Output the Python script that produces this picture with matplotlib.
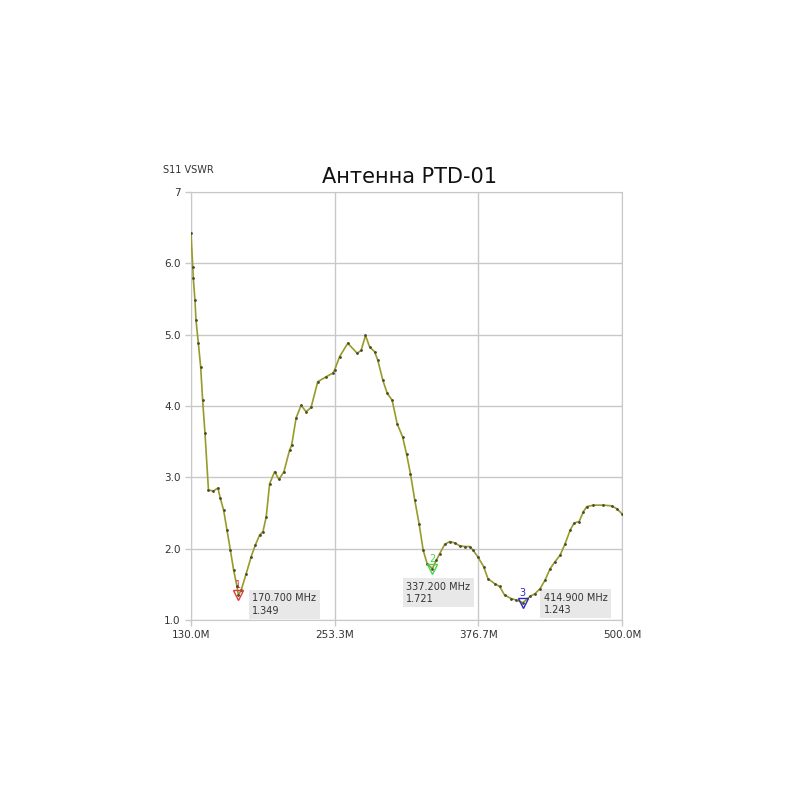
import numpy as np
import matplotlib
matplotlib.use('Agg')
import matplotlib.pyplot as plt

# S11 VSWR sweep
freq = [130.0, 131.5, 132.0, 133.4, 134.3, 136.3, 138.3, 140.0, 142.0, 145.0,
        149.3, 153.1, 155.1, 158.0, 160.9, 163.8, 166.6, 169.5, 170.7, 173.1,
        177.4, 181.7, 185.2, 188.9, 191.8, 194.6, 197.5, 201.8, 205.5, 209.8,
        214.6, 216.4, 220.2, 224.5, 228.8, 233.1, 238.8, 246.0, 251.7, 253.2,
        257.5, 264.6, 272.6, 276.1, 279.8, 283.3, 287.6, 290.4, 294.7, 298.4,
        302.7, 307.0, 311.6, 315.0, 318.4, 322.1, 325.8, 329.3, 332.7, 337.2,
        340.7, 343.5, 347.8, 352.1, 356.4, 360.7, 365.0, 369.3, 372.1, 376.4,
        381.2, 384.9, 390.6, 394.9, 399.2, 404.9, 409.2, 414.9, 421.1, 425.4,
        429.7, 434.0, 438.3, 442.6, 446.9, 451.2, 455.5, 458.9, 463.2, 466.9,
        469.8, 475.5, 484.1, 491.2, 495.5, 500.0]
vswr = [6.42, 5.95, 5.79, 5.48, 5.20, 4.88, 4.55, 4.08, 3.62, 2.82,
        2.81, 2.85, 2.71, 2.54, 2.26, 1.98, 1.70, 1.47, 1.349, 1.42,
        1.65, 1.89, 2.05, 2.19, 2.24, 2.45, 2.91, 3.08, 2.97, 3.08,
        3.38, 3.45, 3.83, 4.01, 3.92, 3.98, 4.34, 4.41, 4.46, 4.50,
        4.69, 4.88, 4.74, 4.78, 4.99, 4.83, 4.76, 4.64, 4.36, 4.18,
        4.08, 3.75, 3.57, 3.33, 3.05, 2.68, 2.35, 1.98, 1.79, 1.721,
        1.84, 1.93, 2.06, 2.10, 2.08, 2.04, 2.03, 2.03, 1.98, 1.88,
        1.75, 1.58, 1.51, 1.47, 1.35, 1.30, 1.28, 1.243, 1.33, 1.37,
        1.44, 1.56, 1.72, 1.82, 1.91, 2.07, 2.26, 2.36, 2.38, 2.52,
        2.59, 2.61, 2.61, 2.60, 2.56, 2.49]

# markers
mk_freq = [170.7, 337.2, 414.9]
mk_val = [1.349, 1.721, 1.243]
mk_num = ['1', '2', '3']
mk_col = ['#e0393e', '#3fd94a', '#2a2ab8']
mk_off = [(14, 2), (-26, -13), (21, 10)]  # readout text offset from marker, pixels

xticks = [130.0, 253.3, 376.7, 500.0]
xticklabels = ['130.0M', '253.3M', '376.7M', '500.0M']
yticks = [1, 2, 3, 4, 5, 6, 7]
yticklabels = ['1.0', '2.0', '3.0', '4.0', '5.0', '6.0', '7']

fig = plt.figure(figsize=(8, 8), dpi=100)
ax = fig.add_axes([191/800, 1-620/800, 431/800, 428/800])

ax.plot(freq, vswr, color='#9a9a28', lw=1.2, zorder=3)
ax.plot(freq, vswr, ls='none', marker='o', ms=1.0, color='#4a4a30', zorder=4)

for f, v, n, c, off in zip(mk_freq, mk_val, mk_num, mk_col, mk_off):
    ax.plot(f, v, marker='v', ms=7, mfc='none', mec=c, mew=1.0, zorder=5)
    ax.annotate(n, (f, v), xytext=(0, 10), textcoords='offset pixels',
                ha='center', va='center', color=c, fontsize=7)
    ax.annotate('%.3f MHz\n%.3f' % (f, v), (f, v), xytext=off,
                textcoords='offset pixels', ha='left', va='top',
                fontsize=7, color='#333333', linespacing=1.3,
                bbox=dict(boxstyle='square,pad=0.35', fc='#e8e8e8', ec='none'))

ax.set_xlim(130, 500)
ax.set_ylim(1, 7)
ax.set_xticks(xticks)
ax.set_xticklabels(xticklabels)
ax.set_yticks(yticks)
ax.set_yticklabels(yticklabels)
ax.grid(True, color='#c8c8c8', lw=1.0)
for s in ax.spines.values():
    s.set_color('#c8c8c8')
ax.tick_params(axis='both', colors='#c8c8c8', labelcolor='#333333',
               labelsize=7.5, length=4, width=1.0)

fig.text(410/800, 1-177/800, 'Антенна PTD-01', ha='center', va='center',
         fontsize=15, color='#111111')
fig.text(163/800, 1-170/800, 'S11 VSWR', ha='left', va='center',
         fontsize=7, color='#333333')

fig.savefig('out.png', dpi=100)
